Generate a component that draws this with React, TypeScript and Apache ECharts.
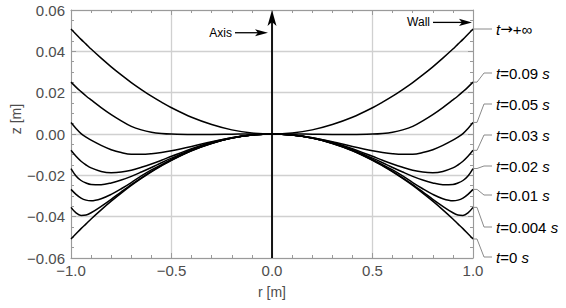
import React, { useEffect, useRef } from "react";
import * as echarts from "echarts";

// radial positions (m)
const rValues = [-1, -0.975, -0.95, -0.925, -0.9, -0.85, -0.8, -0.75, -0.7, -0.65, -0.6, -0.55, -0.5, -0.4, -0.3, -0.2, -0.1, 0, 0.1, 0.2, 0.3, 0.4, 0.5, 0.55, 0.6, 0.65, 0.7, 0.75, 0.8, 0.85, 0.9, 0.925, 0.95, 0.975, 1];

// surface height z (m) for each time
const zInf = [0.0508, 0.0483, 0.0458, 0.0435, 0.0411, 0.0367, 0.0325, 0.0286, 0.0249, 0.0215, 0.0183, 0.0154, 0.0127, 0.0081, 0.0046, 0.002, 0.0005, 0, 0.0005, 0.002, 0.0046, 0.0081, 0.0127, 0.0154, 0.0183, 0.0215, 0.0249, 0.0286, 0.0325, 0.0367, 0.0411, 0.0435, 0.0458, 0.0483, 0.0508];
const z009 = [0.0251, 0.0227, 0.0205, 0.0184, 0.0165, 0.0128, 0.0094, 0.0064, 0.0037, 0.002, 0.0009, 0.0003, 0.0, -0.0002, -0.0002, -0.0001, 0, 0, 0, -0.0001, -0.0002, -0.0002, 0.0, 0.0003, 0.0009, 0.002, 0.0037, 0.0064, 0.0094, 0.0128, 0.0165, 0.0184, 0.0205, 0.0227, 0.0251];
const z005 = [0.0056, 0.0027, 0.0002, -0.0015, -0.003, -0.0055, -0.0076, -0.009, -0.0098, -0.0098, -0.0095, -0.0089, -0.0081, -0.006, -0.0037, -0.0018, -0.0005, 0, -0.0005, -0.0018, -0.0037, -0.006, -0.0081, -0.0089, -0.0095, -0.0098, -0.0098, -0.009, -0.0076, -0.0055, -0.003, -0.0015, 0.0002, 0.0027, 0.0056];
const z003 = [-0.0079, -0.0108, -0.0132, -0.015, -0.0164, -0.0181, -0.0187, -0.0184, -0.0175, -0.0161, -0.0145, -0.0127, -0.0108, -0.0071, -0.004, -0.0018, -0.0005, 0, -0.0005, -0.0018, -0.004, -0.0071, -0.0108, -0.0127, -0.0145, -0.0161, -0.0175, -0.0184, -0.0187, -0.0181, -0.0164, -0.015, -0.0132, -0.0108, -0.0079];
const z002 = [-0.0167, -0.0203, -0.0225, -0.0237, -0.0244, -0.0245, -0.0237, -0.0223, -0.0205, -0.0184, -0.0162, -0.0139, -0.0117, -0.0076, -0.0043, -0.0019, -0.0005, 0, -0.0005, -0.0019, -0.0043, -0.0076, -0.0117, -0.0139, -0.0162, -0.0184, -0.0205, -0.0223, -0.0237, -0.0245, -0.0244, -0.0237, -0.0225, -0.0203, -0.0167];
const z001 = [-0.0268, -0.0292, -0.031, -0.032, -0.0323, -0.0313, -0.0292, -0.0265, -0.0235, -0.0203, -0.0174, -0.0148, -0.0123, -0.0079, -0.0045, -0.002, -0.0005, 0, -0.0005, -0.002, -0.0045, -0.0079, -0.0123, -0.0148, -0.0174, -0.0203, -0.0235, -0.0265, -0.0292, -0.0313, -0.0323, -0.032, -0.031, -0.0292, -0.0268];
const z0004 = [-0.0355, -0.0382, -0.0394, -0.0392, -0.0381, -0.035, -0.0316, -0.028, -0.0245, -0.0212, -0.0181, -0.0152, -0.0126, -0.008, -0.0045, -0.002, -0.0005, 0, -0.0005, -0.002, -0.0045, -0.008, -0.0126, -0.0152, -0.0181, -0.0212, -0.0245, -0.028, -0.0316, -0.035, -0.0381, -0.0392, -0.0394, -0.0382, -0.0355];
const z0 = [-0.0508, -0.0483, -0.0458, -0.0435, -0.0411, -0.0367, -0.0325, -0.0286, -0.0249, -0.0215, -0.0183, -0.0154, -0.0127, -0.0081, -0.0046, -0.002, -0.0005, 0, -0.0005, -0.002, -0.0046, -0.0081, -0.0127, -0.0154, -0.0183, -0.0215, -0.0249, -0.0286, -0.0325, -0.0367, -0.0411, -0.0435, -0.0458, -0.0483, -0.0508];

const seriesValues = [zInf, z009, z005, z003, z002, z001, z0004, z0];
const seriesLabels = ["{i|t}{a|→}+∞", "{i|t}=0.09 {i|s}", "{i|t}=0.05 {i|s}", "{i|t}=0.03 {i|s}", "{i|t}=0.02 {i|s}", "{i|t}=0.01 {i|s}", "{i|t}=0.004 {i|s}", "{i|t}=0 {i|s}"];

const xTicks = [-1, -0.5, 0, 0.5, 1];
const yTicks = [-0.06, -0.04, -0.02, 0, 0.02, 0.04, 0.06];

const FONT = "'Liberation Sans', Arial, sans-serif";
const LABEL_Y = [29, 73, 104, 135, 166, 195, 227, 257];

export default function App() {
  const ref = useRef<HTMLDivElement>(null);
  useEffect(() => {
    document.body.style.margin = "0";
    const chart = echarts.init(ref.current!, null, { renderer: "svg" });
    const fmtMinus = (s: string) => s.replace("-", "\u2212");
    const axisLineStyle = { color: "#9a9a9a", width: 1 };
    const tickStyle = { color: "#9a9a9a", width: 1 };
    const common = (min: number, max: number, interval: number, split: number) => ({
      type: "value",
      min,
      max,
      interval,
      axisLine: { show: true, onZero: false, lineStyle: axisLineStyle },
      axisTick: { show: true, inside: true, length: 5, lineStyle: tickStyle },
      minorTick: { show: true, splitNumber: split, length: 3, lineStyle: tickStyle },
    });
    const series: any[] = seriesValues.map((vals) => ({
      type: "line",
      data: rValues.map((r, i) => [r, vals[i]]),
      smooth: 0.35,
      showSymbol: false,
      symbol: "none",
      silent: true,
      lineStyle: { color: "#000", width: 1.5 },
      z: 3,
    }));
    chart.setOption({
      animation: false,
      grid: { left: 71, right: 93, top: 10, bottom: 50 },
      xAxis: [
        {
          ...common(xTicks[0], xTicks[xTicks.length - 1], 0.5, 5),
          position: "bottom",
          axisLabel: {
            color: "#4d4d4d",
            fontSize: 15,
            fontFamily: FONT,
            margin: 5,
            formatter: (v: number) => (Math.abs(v) < 1e-9 ? "0.0" : fmtMinus(v.toFixed(1))),
          },
          splitLine: { show: true, lineStyle: { color: "#d0d0d0", width: 1.3 } },
          name: "r [m]",
          nameLocation: "middle",
          nameGap: 27,
          nameTextStyle: { color: "#4d4d4d", fontSize: 14, fontFamily: FONT },
        },
        {
          ...common(xTicks[0], xTicks[xTicks.length - 1], 0.5, 5),
          position: "top",
          axisLabel: { show: false },
          splitLine: { show: false },
        },
      ],
      yAxis: [
        {
          ...common(yTicks[0], yTicks[yTicks.length - 1], 0.02, 4),
          position: "left",
          axisLabel: {
            color: "#4d4d4d",
            fontSize: 15,
            fontFamily: FONT,
            margin: 6,
            formatter: (v: number) => (Math.abs(v) < 1e-9 ? "0.00" : fmtMinus(v.toFixed(2))),
          },
          splitLine: { show: true, lineStyle: { color: "#d0d0d0", width: 1.3 } },
        },
        {
          ...common(yTicks[0], yTicks[yTicks.length - 1], 0.02, 4),
          position: "right",
          axisLabel: { show: false },
          splitLine: { show: false },
        },
      ],
      series,
    });

    const px = (x: number, y: number) => chart.convertToPixel({ gridIndex: 0 }, [x, y]) as number[];
    const graphics: any[] = [];
    // vertical axis arrow at r = 0
    const [ax, ayB] = px(0, yTicks[0]);
    const [, ayT] = px(0, yTicks[yTicks.length - 1]);
    graphics.push({
      type: "line",
      shape: { x1: ax, y1: ayB, x2: ax, y2: ayT + 10 },
      style: { stroke: "#000", lineWidth: 1.8 },
      z: 10,
    });
    graphics.push({
      type: "polygon",
      shape: { points: [[ax, ayT], [ax - 4.5, ayT + 16], [ax, ayT + 12], [ax + 4.5, ayT + 16]] },
      style: { fill: "#000" },
      z: 10,
    });
    // horizontal arrows with text
    const hArrow = (tipX: number, tipY: number, len: number, text: string) => {
      graphics.push({
        type: "line",
        shape: { x1: tipX - len, y1: tipY, x2: tipX - 8, y2: tipY },
        style: { stroke: "#000", lineWidth: 1.3 },
        z: 10,
      });
      graphics.push({
        type: "polygon",
        shape: { points: [[tipX, tipY], [tipX - 13, tipY - 3.6], [tipX - 10, tipY], [tipX - 13, tipY + 3.6]] },
        style: { fill: "#000" },
        z: 10,
      });
      graphics.push({
        type: "text",
        x: tipX - len - 3,
        y: tipY,
        style: { text, fontSize: 12, fontFamily: FONT, fill: "#000", align: "right", verticalAlign: "middle" },
        z: 10,
      });
    };
    const [axT, ayA] = px(-0.02, 0.049);
    hArrow(axT, ayA, 33, "Axis");
    const [wx, wy] = px(0.995, 0.054);
    hArrow(wx, wy, 39, "Wall");

    // leader lines and labels
    seriesValues.forEach((vals, k) => {
      const [ex, ey] = px(rValues[rValues.length - 1], vals[vals.length - 1]);
      const ly = LABEL_Y[k];
      graphics.push({
        type: "polyline",
        shape: { points: [[ex, ey], [ex + 4, ey], [ex + 11, ly], [ex + 19, ly]] },
        style: { stroke: "#8a8a8a", lineWidth: 1, fill: null },
        z: 5,
      });
      graphics.push({
        type: "text",
        x: ex + 23,
        y: ly,
        style: {
          text: seriesLabels[k],
          fontSize: 15,
          fontFamily: FONT,
          fill: "#000",
          verticalAlign: "middle",
          rich: {
            i: { fontStyle: "italic", fontSize: 15, fontFamily: FONT, fill: "#000" },
            a: { fontSize: 15, fontFamily: "'DejaVu Sans', sans-serif", fill: "#000" },
          },
        },
        z: 10,
      });
    });
    // vertical axis name
    graphics.push({
      type: "text",
      x: 16,
      y: 119,
      rotation: Math.PI / 2,
      style: { text: "z [m]", fontSize: 14, fontFamily: FONT, fill: "#4d4d4d", align: "center", verticalAlign: "middle" },
    });
    chart.setOption({ graphic: graphics });
    return () => chart.dispose();
  }, []);
  return <div ref={ref} style={{ width: 566, height: 308 }} />;
}
